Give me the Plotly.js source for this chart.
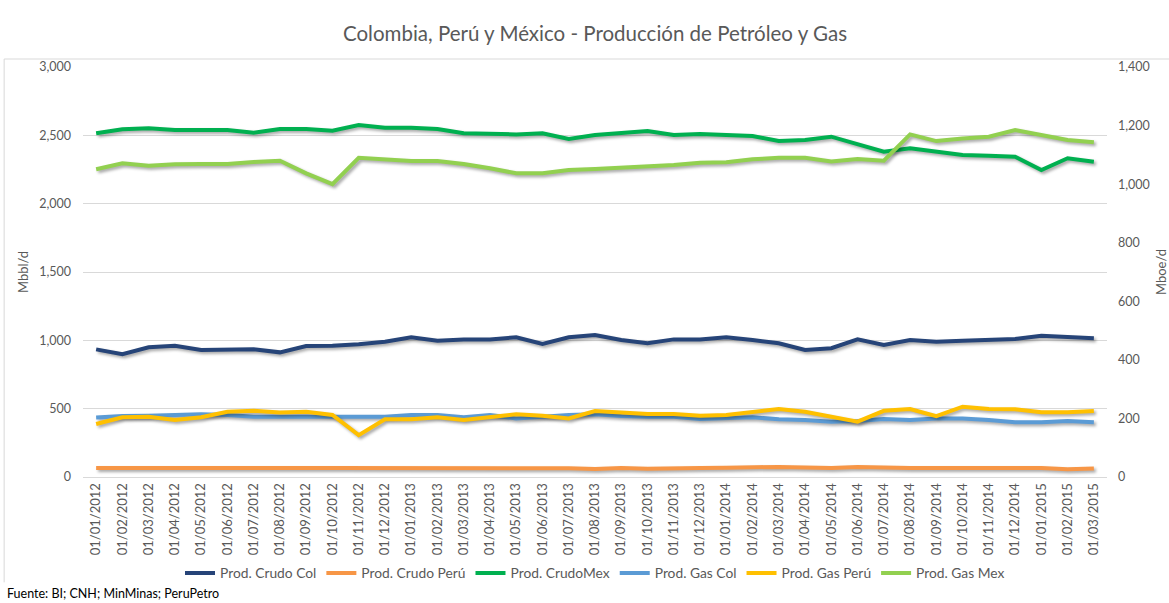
<!DOCTYPE html>
<html>
<head>
<meta charset="utf-8">
<script src="https://cdn.plot.ly/plotly-3.0.1.min.js"></script>
<style>
html, body { margin: 0; padding: 0; background: #fff; }
#chart { width: 1169px; height: 603px; }
.scatterlayer .js-line { filter: drop-shadow(2px 2px 1.5px rgba(0,0,0,0.35)); }
</style>
</head>
<body>
<div id="chart"></div>
<script>
const fechas = ["01/01/2012","01/02/2012","01/03/2012","01/04/2012","01/05/2012","01/06/2012","01/07/2012","01/08/2012","01/09/2012","01/10/2012","01/11/2012","01/12/2012",
  "01/01/2013","01/02/2013","01/03/2013","01/04/2013","01/05/2013","01/06/2013","01/07/2013","01/08/2013","01/09/2013","01/10/2013","01/11/2013","01/12/2013",
  "01/01/2014","01/02/2014","01/03/2014","01/04/2014","01/05/2014","01/06/2014","01/07/2014","01/08/2014","01/09/2014","01/10/2014","01/11/2014","01/12/2014",
  "01/01/2015","01/02/2015","01/03/2015"];

const crudoCol = [934,898,949,961,929,929,934,912,958,961,971,990,1022,997,1007,1007,1022,973,1022,1039,1002,978,1007,1007,1022,1002,978,929,942,1007,966,1002,990,997,1002,1010,1034,1027,1015];
const crudoPeru = [66,65,65,66,65,65,65,65,65,65,65,65,65,66,66,70,68,68,64,58,66,60,66,66,67,72,74,70,66,74,68,65,65,65,72,65,65,56,62];
const crudoMex = [2515,2544,2551,2539,2539,2539,2519,2546,2546,2534,2575,2556,2556,2546,2515,2512,2507,2515,2473,2502,2515,2532,2502,2510,2502,2495,2459,2466,2490,2432,2380,2405,2380,2356,2351,2344,2246,2332,2307];
const gasCol = [203,208,209,212,214,212,206,206,206,204,204,206,212,212,204,212,200,206,212,214,208,206,206,198,200,204,197,195,189,191,198,195,200,200,195,187,187,191,187];
const gasPeru = [181,204,206,195,204,223,226,220,223,212,143,197,197,204,195,203,214,209,200,225,220,215,215,209,212,221,232,223,206,189,226,232,208,240,232,231,221,221,225];
const gasMex = [1051,1071,1063,1068,1069,1069,1076,1080,1037,1000,1090,1085,1079,1079,1069,1054,1037,1037,1048,1052,1056,1060,1065,1073,1075,1085,1090,1090,1077,1086,1080,1170,1147,1156,1162,1185,1168,1151,1143];

const FONT = "Lato, 'Open Sans', sans-serif";
const GRAY = "#595959";

function tr(name, y, color, axis) {
  return {
    type: "scatter", mode: "lines", name: name,
    x: fechas, y: y, yaxis: axis,
    line: { color: color, width: 4, shape: "linear" },
    hoverinfo: "x+y+name"
  };
}

const data = [
  tr("Prod. Crudo Col", crudoCol, "#264478", "y"),
  tr("Prod. Crudo Perú", crudoPeru, "#F79646", "y"),
  tr("Prod. CrudoMex", crudoMex, "#00B050", "y"),
  tr("Prod. Gas Col", gasCol, "#5B9BD5", "y2"),
  tr("Prod. Gas Perú", gasPeru, "#FFC000", "y2"),
  tr("Prod. Gas Mex", gasMex, "#92D050", "y2")
];

const layout = {
  width: 1169, height: 603,
  margin: { l: 83, r: 62, t: 67, b: 126 },
  paper_bgcolor: "#ffffff", plot_bgcolor: "#ffffff",
  font: { family: FONT, size: 12, color: GRAY },
  title: {
    text: "Colombia, Perú y México - Producción de Petróleo y Gas",
    font: { family: FONT, size: 20.5, color: GRAY },
    x: 0.5, xanchor: "center", xref: "paper",
    y: 37, yref: "container", yanchor: "middle"
  },
  xaxis: {
    type: "category",
    range: [-0.5, 38.5],
    tickangle: -90,
    tickfont: { family: FONT, size: 13, color: GRAY },
    showgrid: false, zeroline: false,
    showline: true, linecolor: "#d9d9d9", linewidth: 1,
    ticks: "", automargin: false
  },
  yaxis: {
    range: [0, 3000], dtick: 500, tickformat: ",d",
    showgrid: true, gridcolor: "#d9d9d9", gridwidth: 1,
    zeroline: false, showline: false, ticks: "",
    tickfont: { family: FONT, size: 12.5, color: GRAY },
    ticklabelstandoff: 11,
    title: { text: "Mbbl/d", font: { family: FONT, size: 13, color: GRAY }, standoff: 7 },
    automargin: false
  },
  yaxis2: {
    overlaying: "y", side: "right",
    range: [0, 1400], dtick: 200, tickformat: ",d",
    showgrid: false, zeroline: false, showline: false, ticks: "",
    tickfont: { family: FONT, size: 12.5, color: GRAY },
    ticklabelstandoff: 10,
    title: { text: "Mboe/d", font: { family: FONT, size: 13, color: GRAY }, standoff: 24 },
    automargin: false
  },
  showlegend: true,
  legend: {
    orientation: "h", x: 0.5, xanchor: "center",
    y: -0.234, yanchor: "middle",
    font: { family: FONT, size: 13.8, color: GRAY },
    bgcolor: "rgba(0,0,0,0)", traceorder: "normal"
  },
  annotations: [{
    text: "Fuente: BI; CNH; MinMinas; PeruPetro",
    xref: "paper", yref: "paper",
    x: -0.0765, y: -0.283, xanchor: "left", yanchor: "middle",
    showarrow: false, font: { family: FONT, size: 12.5, color: "#000000" }
  }],
  shapes: [
    { type: "line", xref: "paper", yref: "paper", x0: -0.0770, x1: 1.07, y0: 1.0195, y1: 1.0195,
      line: { color: "#d9d9d9", width: 1 } },
    { type: "line", xref: "paper", yref: "paper", x0: -0.0770, x1: -0.0770, y0: 1.0195, y1: -0.257,
      line: { color: "#d9d9d9", width: 1 } }
  ]
};

Plotly.newPlot("chart", data, layout, { displayModeBar: false, responsive: false });
</script>
</body>
</html>
